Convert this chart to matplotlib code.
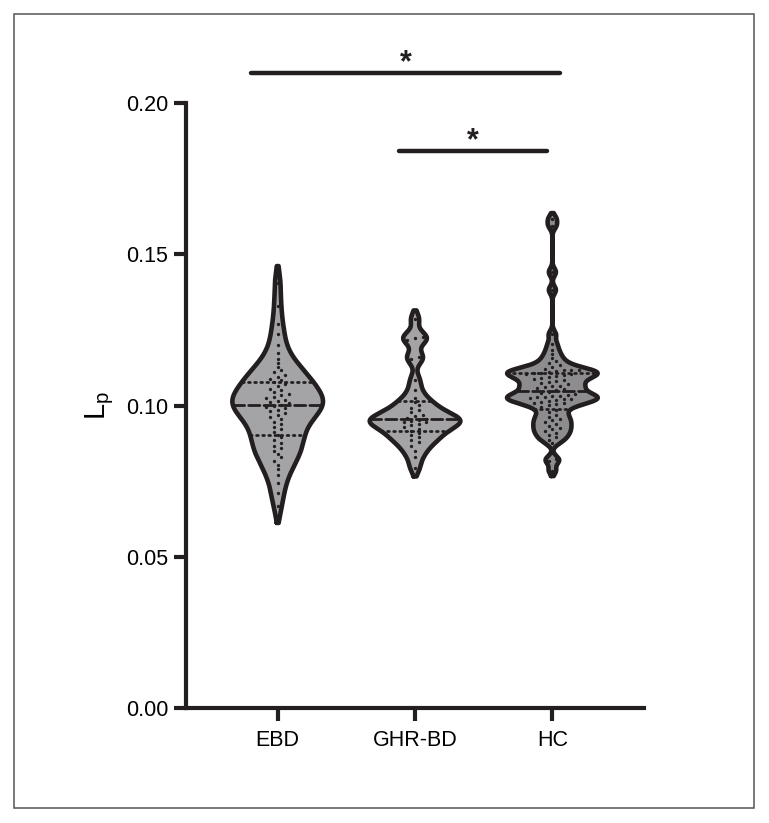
import numpy as np
import matplotlib
matplotlib.use("Agg")
import matplotlib.pyplot as plt
from matplotlib.patches import Rectangle

plt.rcParams['font.family'] = ['Liberation Sans', 'DejaVu Sans']
plt.rcParams['mathtext.fontset'] = 'custom'
plt.rcParams['mathtext.rm'] = 'Liberation Sans'

# groups and values
groups = ["EBD", "GHR-BD", "HC"]

ebd = [0.1405, 0.133, 0.127, 0.1235, 0.120, 0.1175, 0.1155, 0.114, 0.1128,
       0.1118, 0.111, 0.1102, 0.1095, 0.1089, 0.1083,
       0.1078, 0.1070, 0.1063, 0.1056, 0.1050, 0.1044, 0.1039, 0.1034, 0.1029,
       0.1024, 0.1019, 0.1015, 0.1011, 0.1007, 0.1003,
       0.0999, 0.0995, 0.0991, 0.0986, 0.0981, 0.0975, 0.0969, 0.0962, 0.0955,
       0.0947, 0.0939, 0.0930, 0.0921, 0.0912, 0.0903,
       0.0895, 0.0885, 0.0876, 0.0867, 0.0858, 0.0849, 0.0840, 0.0830, 0.0818,
       0.0805, 0.0790, 0.0770, 0.0745, 0.0712, 0.0668]

ghr = [0.1285, 0.1228, 0.1222, 0.1218, 0.1162, 0.1155, 0.1085, 0.1050, 0.1025,
       0.1012, 0.1002, 0.0993, 0.0985, 0.0977, 0.0970, 0.0964, 0.0960, 0.0956,
       0.0953, 0.0950, 0.0947, 0.0944, 0.0940, 0.0935, 0.0929, 0.0923, 0.0917,
       0.0910, 0.0902, 0.0895, 0.0887, 0.0878, 0.0866, 0.0850, 0.0830, 0.0795]

hc = [0.1618, 0.1595, 0.1441, 0.1382,
      0.1235, 0.1205, 0.1185, 0.117, 0.1158, 0.1148, 0.1140, 0.1133, 0.1127,
      0.1122, 0.1119, 0.1117, 0.1116,
      0.1113, 0.1111, 0.1109, 0.1107, 0.1105, 0.1103, 0.1101, 0.1098, 0.1095,
      0.1092, 0.1089, 0.1086, 0.1082, 0.1078, 0.1074, 0.1070, 0.1066, 0.1063,
      0.1060, 0.1058,
      0.1055, 0.1050, 0.1045, 0.1041, 0.1038, 0.1035, 0.1033, 0.1031, 0.1029,
      0.1027, 0.1025, 0.1023, 0.1021, 0.1019, 0.1016, 0.1013, 0.1010, 0.1007,
      0.1004, 0.1001,
      0.0994, 0.0986, 0.0978, 0.0970, 0.0963, 0.0957, 0.0951, 0.0945, 0.0939,
      0.0933, 0.0927, 0.0921, 0.0915, 0.0909, 0.0902, 0.0895, 0.0887, 0.0877,
      0.0824, 0.0816, 0.0785]

data = [ebd, ghr, hc]
bandwidths = [0.0040, 0.0021, 0.0013]
fills = ["#a4a4a6", "#a4a4a6", "#8d8d8f"]

# significance bars: (x0, x1, y)
sig_bars = [(-0.196, 2.055, 0.2098), (0.883, 1.96, 0.1841)]

ink = "#231f20"

fig = plt.figure(figsize=(7.69, 8.23), dpi=100)
ax = fig.add_axes([0.2425, 0.1397, 0.5955, 0.7351])

halfw = 0.33
for i, vals in enumerate(data):
    v = np.array(vals)
    h = bandwidths[i]
    # the outline runs a little past the end points so the tips taper
    y = np.linspace(v.min() - 1.4 * h, v.max() + 1.4 * h, 500)
    dens = np.exp(-0.5 * ((y[:, None] - v[None, :]) / h) ** 2).sum(axis=1)
    w = halfw * dens / dens.max()
    ax.fill_betweenx(y, i - w, i + w, facecolor=fills[i], edgecolor='none', zorder=2)
    xs = np.concatenate([i - w, (i + w)[::-1], [i - w[0]]])
    ys = np.concatenate([y, y[::-1], [y[0]]])
    ax.plot(xs, ys, color=ink, lw=3.3, solid_joinstyle='round',
            solid_capstyle='round', zorder=4)

    # median and quartiles across the violin
    for q, ls in [(50, (0, (4, 1.5))), (25, (0, (0.6, 1.6))), (75, (0, (0.6, 1.6)))]:
        qv = np.percentile(v, q)
        wq = np.interp(qv, y, w)
        ax.plot([i - wq, i + wq], [qv, qv], color=ink, lw=2.0, ls=ls,
                dash_capstyle='round', zorder=3)

    # points, spread sideways in bins
    order = np.sort(v)
    bins = np.floor(order / 0.0016)
    xo = np.zeros_like(order)
    for b in np.unique(bins):
        idx = np.where(bins == b)[0]
        k = len(idx)
        xo[idx] = (np.arange(k) - (k - 1) / 2) * 0.055
    ax.plot(i + xo, order, 'o', color=ink, ms=2.4, mew=0, zorder=3)

for x0, x1, yb in sig_bars:
    ax.plot([x0, x1], [yb, yb], color=ink, lw=3.2, solid_capstyle='round',
            clip_on=False, zorder=5)
    ax.text((x0 + x1) / 2, yb - 0.0016, "*", ha='center', va='bottom',
            fontsize=22, fontweight='bold', color=ink, clip_on=False)

ax.set_xlim(-0.664, 2.67)
ax.set_ylim(0, 0.2)
ax.set_xticks(range(len(groups)))
ax.set_xticklabels(groups)
ax.set_yticks([0, 0.05, 0.10, 0.15, 0.20])
ax.set_yticklabels(["0.00", "0.05", "0.10", "0.15", "0.20"])
for s in ['top', 'right']:
    ax.spines[s].set_visible(False)
for s in ['left', 'bottom']:
    ax.spines[s].set_linewidth(3)
    ax.spines[s].set_color(ink)
ax.tick_params(axis='both', length=9, width=3, color=ink, labelsize=15.5,
               labelcolor='black')
ax.tick_params(axis='y', pad=4)
ax.tick_params(axis='x', pad=7)
ax.set_ylabel(r"$\mathregular{L_p}$", fontsize=21, labelpad=7)

fig.patches.append(Rectangle((0.0182, 0.0182), 0.9623, 0.9648, transform=fig.transFigure,
                             fill=False, edgecolor="#555555", lw=1.1))

fig.savefig("out.png", dpi=100)
